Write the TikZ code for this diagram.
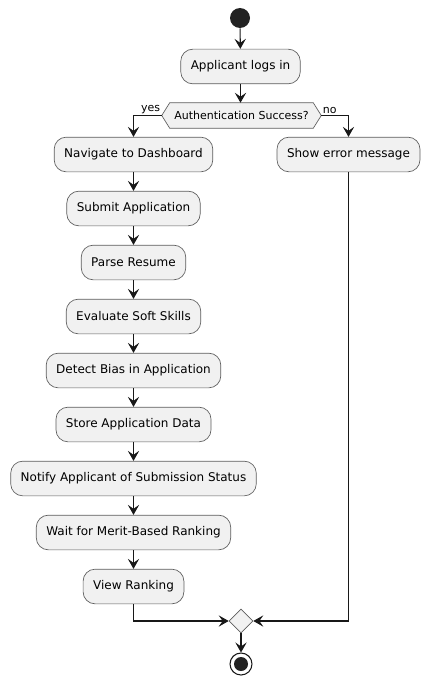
\documentclass[tikz,border=0pt]{standalone}
\usepackage{fontspec}
\setmainfont{DejaVu Sans}
\usetikzlibrary{arrows.meta,shapes.geometric,backgrounds}
\definecolor{boxfill}{HTML}{F1F1F1}
\definecolor{lineclr}{HTML}{181818}
\definecolor{dotclr}{HTML}{222222}
\begin{document}
\begin{tikzpicture}[x=0.75pt,y=-0.75pt,
  actbox/.style={draw=lineclr!70,line width=0.5pt,fill=boxfill,rounded corners=9pt,
    minimum height=26pt,inner xsep=7.5pt,font=\fontsize{9}{11}\selectfont,text=black},
  flow/.style={draw=lineclr,line width=0.8pt,-{Stealth[length=7.5pt,width=8.5pt,inset=3pt]}},
  plain/.style={draw=lineclr,line width=0.8pt},
  lbl/.style={font=\fontsize{8.25}{10}\selectfont,text=black,inner sep=1pt}]
\useasboundingbox (0,0) rectangle (430,685);
\node[circle,fill=dotclr,minimum size=15pt,inner sep=0pt] (start) at (240,18) {};
\node[actbox] (login) at (240.5,66.5) {Applicant logs in};
\node[minimum width=119.25pt,minimum height=18.75pt,inner sep=0pt,font=\fontsize{8.25}{10}\selectfont] (dec) at (241.5,115.5) {Authentication Success?};
\begin{scope}[on background layer]
\path[draw=lineclr!70,line width=0.5pt,fill=boxfill] (dec.west) -- ([xshift=6pt]dec.north west) -- ([xshift=-6pt]dec.north east) -- (dec.east) -- ([xshift=-6pt]dec.south east) -- ([xshift=6pt]dec.south west) -- cycle;
\end{scope}
\node[actbox] (nav) at (133.5,154.5) {Navigate to Dashboard};
\node[actbox] (err) at (348.5,154.5) {Show error message};
\node[actbox] (submit) at (133.5,208.5) {Submit Application};
\node[actbox] (parse) at (133.5,262.5) {Parse Resume};
\node[actbox] (eval) at (133.5,316.5) {Evaluate Soft Skills};
\node[actbox] (bias) at (133.5,370.5) {Detect Bias in Application};
\node[actbox] (store) at (133.5,424.5) {Store Application Data};
\node[actbox] (notify) at (133.5,478.5) {Notify Applicant of Submission Status};
\node[actbox] (wait) at (133.5,532.5) {Wait for Merit-Based Ranking};
\node[actbox] (view) at (133.5,586.5) {View Ranking};
\node[diamond,draw=lineclr!70,line width=0.5pt,fill=boxfill,minimum width=18pt,minimum height=18pt,inner sep=0pt] (merge) at (241,621) {};
\node[circle,draw=lineclr,line width=0.8pt,fill=white,minimum size=16.5pt,inner sep=0pt] (stop) at (241,664) {};
\node[circle,fill=dotclr,minimum size=10.5pt,inner sep=0pt] (stopdot) at (241,664) {};
\draw[flow] (start) -- (login);
\draw[flow] (login) -- (dec.north -| login);
\draw[flow] (dec.west) -| (nav.north);
\draw[flow] (dec.east) -| (err.north);
\node[lbl,anchor=south east] (yes) at (dec.west) {yes};
\node[lbl,anchor=south west] (no) at (dec.east) {no};
\draw[flow] (nav) -- (submit);
\draw[flow] (submit) -- (parse);
\draw[flow] (parse) -- (eval);
\draw[flow] (eval) -- (bias);
\draw[flow] (bias) -- (store);
\draw[flow] (store) -- (notify);
\draw[flow] (notify) -- (wait);
\draw[flow] (wait) -- (view);
\draw[flow] (view.south) |- (merge.west);
\draw[flow] (err.south) |- (merge.east);
\draw[flow] (merge) -- (stop);
\end{tikzpicture}
\end{document}
